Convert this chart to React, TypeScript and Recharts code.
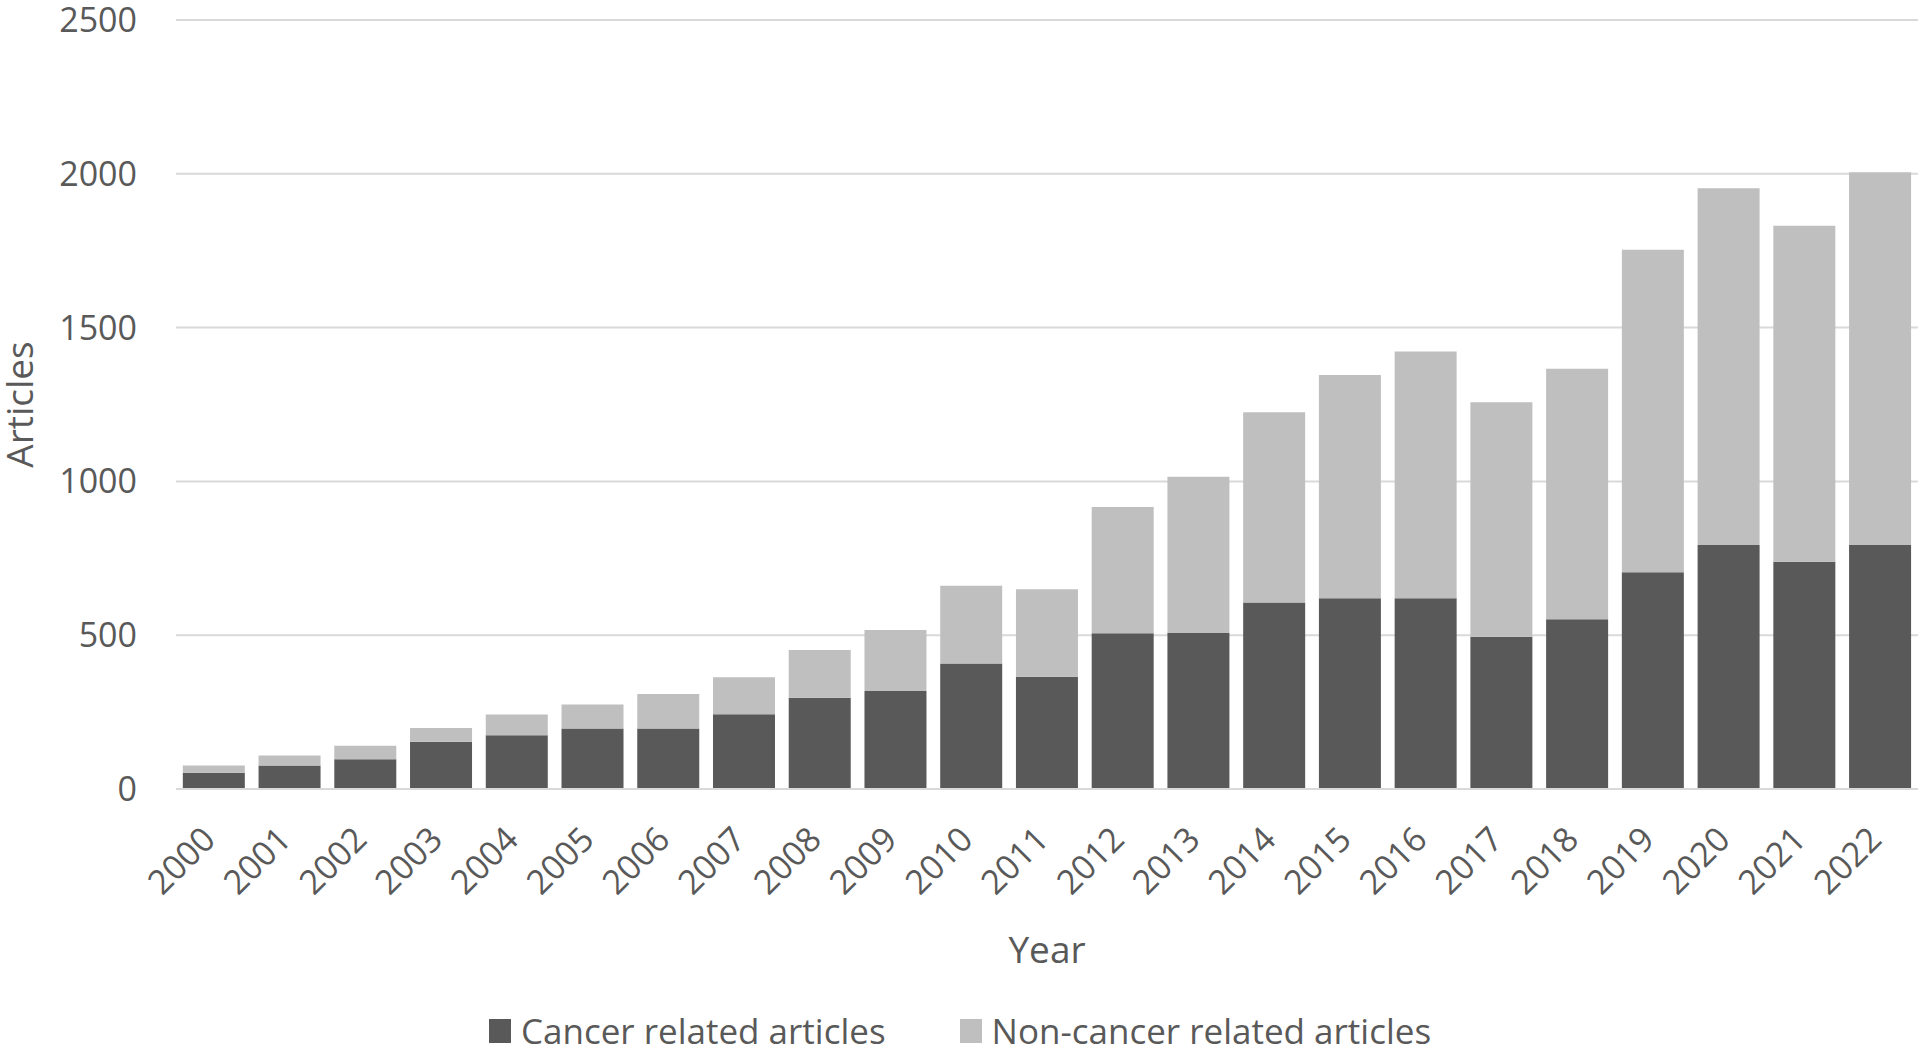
import React from 'react';
import { BarChart, Bar, XAxis, YAxis, CartesianGrid, Legend } from 'recharts';

const years = ['2000','2001','2002','2003','2004','2005','2006','2007','2008','2009','2010','2011','2012','2013','2014','2015','2016','2017','2018','2019','2020','2021','2022'];
const cancer = [53, 76, 97, 154, 175, 197, 197, 243, 297, 319, 408, 365, 506, 507, 606, 620, 620, 495, 552, 705, 793, 739, 793];
const nonCancer = [23, 33, 44, 44, 67, 78, 112, 120, 155, 198, 253, 284, 411, 508, 619, 726, 802, 762, 814, 1048, 1160, 1092, 1212];
const yTicks = [0, 500, 1000, 1500, 2000, 2500];

const data = years.map((y, i) => ({ year: y, cancer: cancer[i], nonCancer: nonCancer[i] }));

const FONT = '"Open Sans", sans-serif';
const TEXT = '#595959';
const DARK = '#595959';
const LIGHT = '#bfbfbf';

const XTick = (props: any) => {
  const { x, y, payload } = props;
  return (
    <g transform={`translate(${x},${y})`}>
      <text
        x={-5}
        y={44}
        dy="0.35em"
        textAnchor="end"
        transform="rotate(-45, -5, 44)"
        fill={TEXT}
        fontSize={34}
        fontFamily={FONT}
      >
        {payload.value}
      </text>
    </g>
  );
};

const YLabel = (props: any) => {
  const vb = props.viewBox || {};
  const cx = vb.x + 20;
  const cy = vb.y + vb.height / 2;
  return (
    <text
      x={cx}
      y={cy}
      dy="0.35em"
      textAnchor="middle"
      transform={`rotate(-90, ${cx}, ${cy})`}
      fill={TEXT}
      fontSize={37}
      fontFamily={FONT}
    >
      Articles
    </text>
  );
};

const LegendContent = (props: any) => {
  const { payload } = props;
  return (
    <div style={{ display: 'flex', justifyContent: 'center', alignItems: 'center', fontFamily: FONT, fontSize: 35, lineHeight: 1, color: TEXT }}>
      {payload.map((p: any, i: number) => (
        <div key={i} style={{ display: 'flex', alignItems: 'center', marginLeft: i === 0 ? 0 : 74 }}>
          <span style={{ display: 'inline-block', width: 22, height: 24, background: p.color, marginRight: 10 }} />
          <span>{p.value}</span>
        </div>
      ))}
    </div>
  );
};

export default function App() {
  return (
    <div style={{ position: 'absolute', left: 0, top: 0, width: 1920, height: 1051, background: '#fff' }}>
      <BarChart
        width={1920}
        height={1051}
        data={data}
        margin={{ top: 20, right: 2, bottom: 0, left: 0 }}
        barCategoryGap="9%"
      >
        <CartesianGrid vertical={false} stroke="#d9d9d9" strokeWidth={2} />
        <XAxis
          dataKey="year"
          height={262}
          tickLine={false}
          tickSize={0}
          tickMargin={0}
          axisLine={{ stroke: '#d9d9d9', strokeWidth: 2 }}
          interval={0}
          tick={<XTick />}
          label={{ value: 'Year', position: 'insideTop', offset: 148, fill: TEXT, fontSize: 37, fontFamily: FONT }}
        />
        <YAxis
          width={176}
          domain={[0, 2500]}
          ticks={yTicks}
          tickLine={false}
          axisLine={false}
          tickSize={0}
          tickMargin={39}
          tick={{ fill: TEXT, fontSize: 34, fontFamily: FONT }}
          label={{ content: <YLabel /> }}
        />
        <Legend
          layout="horizontal"
          verticalAlign="middle"
          align="center"
          wrapperStyle={{ top: 1013, left: 0, width: 1920 }}
          content={<LegendContent />}
        />
        <Bar dataKey="cancer" name="Cancer related articles" stackId="a" fill={DARK} isAnimationActive={false} />
        <Bar dataKey="nonCancer" name="Non-cancer related articles" stackId="a" fill={LIGHT} isAnimationActive={false} />
      </BarChart>
    </div>
  );
}
